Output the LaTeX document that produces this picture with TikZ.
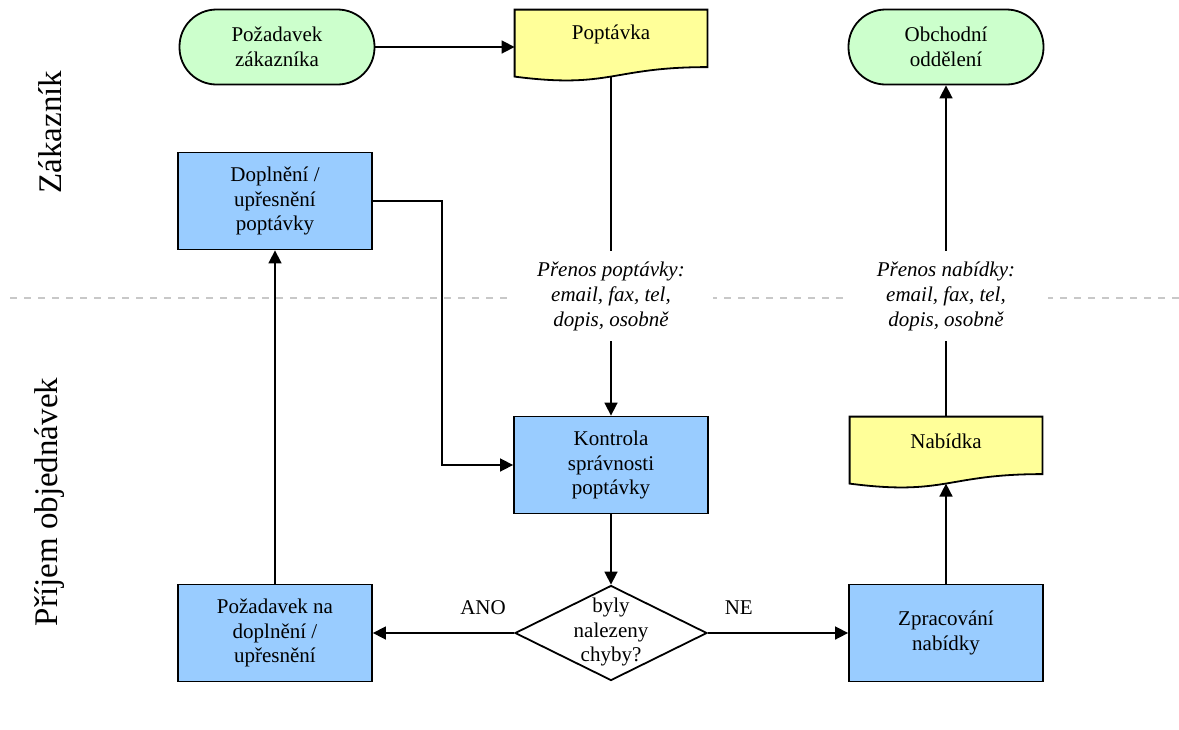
\documentclass[tikz,border=0pt]{standalone}
\usepackage{fontspec}
\setmainfont{Liberation Serif}
\usetikzlibrary{arrows.meta, positioning, shapes.geometric, calc, backgrounds}

\definecolor{procblue}{RGB}{153,204,255}
\definecolor{termgreen}{RGB}{204,255,204}
\definecolor{docyellow}{RGB}{255,255,153}
\definecolor{lanegray}{RGB}{200,200,200}

\newcommand{\docoutline}[1]{%
  \filldraw[docshape] (#1.north west) -- (#1.north east)
    -- ($(#1.north east)+(0,57.5)$)
    .. controls ($(#1.north)+(0,57.5)$) and ($(#1.north)+(0,79.5)$) .. ($(#1.north west)+(0,67)$)
    -- cycle;}

\begin{document}
\begin{tikzpicture}[x=0.5pt, y=-0.5pt,
                base/.style={draw, line width=0.9pt, align=center, font=\fontsize{10.5}{12.25}\selectfont},
                proc/.style={base, fill=procblue, minimum width=97pt, minimum height=48.5pt},
                term/.style={base, fill=termgreen, rounded corners=18.5pt, minimum width=97.5pt, minimum height=37.5pt},
                doc/.style={align=center, font=\fontsize{10.5}{12.25}\selectfont, inner sep=0pt,
                    minimum width=96pt, minimum height=24pt},
                docshape/.style={draw=black, fill=docyellow, line width=0.9pt},
                decision/.style={base, diamond, inner sep=0pt, minimum width=96pt, minimum height=47.5pt},
                transfer/.style={fill=white, align=center, font=\fontsize{10.5}{12.5}\selectfont\itshape,
                    minimum width=102pt, minimum height=45pt},
                lane/.style={rotate=90, font=\fontsize{16.5}{18}\selectfont},
                lanesep/.style={draw=lanegray, line width=1pt, dash pattern=on 3.5pt off 3.5pt},
                note/.style={font=\fontsize{10.5}{12.25}\selectfont},
                arr/.style={-{Triangle[length=6.5pt, width=6.5pt]}, line width=0.8pt},
                link/.style={line width=0.8pt}]
                \useasboundingbox (0,0) rectangle (1179,729);
                \node[lane] (zakaznik) at (50,132) {Zákazník};
                \node[lane] (prijem) at (50,502) {Příjem objednávek};
                \node[term] (pozadavek) at (277,47) {Požadavek\\zákazníka};
                \node[doc] (poptavka) at (611,34) {Poptávka};
                \node[term] (obchodni) at (946,47) {Obchodní\\oddělení};
                \node[proc] (doplneni) at (275,201) {Doplnění /\\upřesnění\\poptávky};
                \node[transfer] (prenosP) at (611,296) {Přenos poptávky:\\email, fax, tel,\\dopis, osobně};
                \node[transfer] (prenosN) at (946,296) {Přenos nabídky:\\email, fax, tel,\\dopis, osobně};
                \node[proc] (kontrola) at (611,465) {Kontrola\\správnosti\\poptávky};
                \node[doc] (nabidka) at (946,441) {Nabídka};
                \node[decision] (chyby) at (611,633) {\raisebox{-2.3pt}[0pt][0pt]{\begin{tabular}{@{}c@{}}byly\\nalezeny\\chyby?\end{tabular}}};
                \node[proc] (pozNa) at (275,633) {Požadavek na\\doplnění /\\upřesnění};
                \node[proc] (zprac) at (946,633) {Zpracování\\nabídky};
                \coordinate (poptavka-b) at ($(poptavka.north)+(0,67)$);
                \coordinate (nabidka-b) at ($(nabidka.north)+(0,67)$);
                \begin{scope}[on background layer]
                    \draw[lanesep] (10,298) -- (1179,298);
                    \docoutline{poptavka}
                    \docoutline{nabidka}
                \end{scope}
                \draw[arr] (pozadavek.east) -- (pozadavek.east -| poptavka.west);
                \draw[link] (poptavka-b) -- (prenosP);
                \draw[arr] (prenosP) -- (kontrola);
                \draw[arr] (kontrola) -- (chyby);
                \draw[arr] (chyby.west) -- node[note, pos=0.22, above=5.5pt] {ANO} (pozNa.east);
                \draw[arr] (chyby.east) -- node[note, pos=0.22, above=5.5pt] {NE} (zprac.west);
                \draw[arr] (pozNa) -- (doplneni);
                \draw[arr] (doplneni.east) -- ++(69,0) |- (kontrola.west);
                \draw[arr] (zprac) -- (nabidka-b);
                \draw[link] (nabidka) -- (prenosN);
                \draw[arr] (prenosN) -- (obchodni);
            \end{tikzpicture}
\end{document}
